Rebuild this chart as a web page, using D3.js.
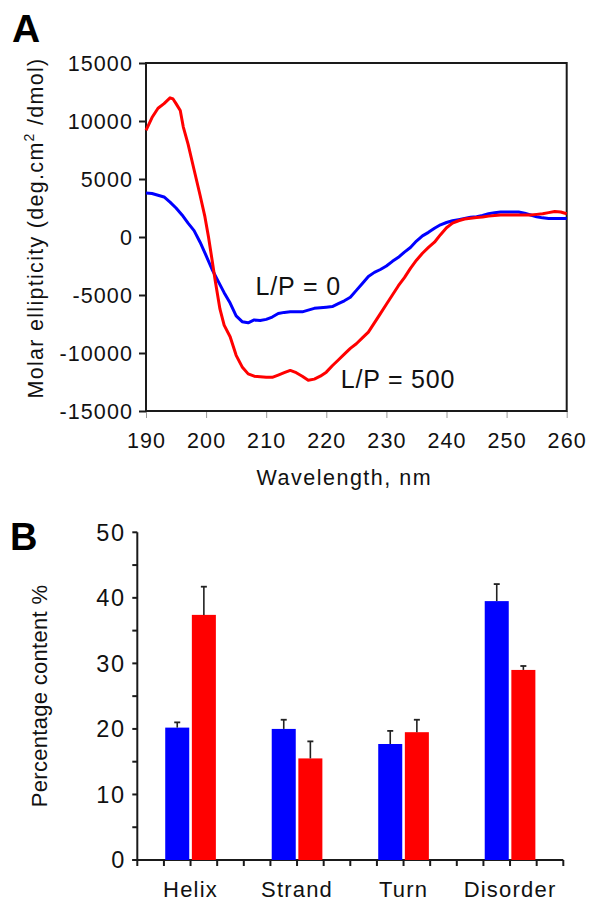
<!DOCTYPE html>
<html>
<head>
<meta charset="utf-8">
<script src="https://cdn.jsdelivr.net/npm/d3@7"></script>
<style>
  html, body { margin: 0; padding: 0; background: #fff; }
  svg { display: block; font-family: "Liberation Sans", Arial, sans-serif; }
</style>
</head>
<body>
<svg id="chart" width="589" height="902"></svg>
<script>
// ---------- Panel A data (CD spectra) ----------
const redWavelength = [190,191,192,193,194,194.5,195,195.7,196.2,197,198,199,199.8,200.4,201,201.5,202.3,203,204,205,206,207,208,209,210,211,212,213,214,215,216,217,218,219,220,221,222,223,224,225,226,227,228,229,230,231,232,233,234,235,236,237,238,239,240,241,242,243,244,245,246,247,248,249,250,252,254,255,256,257,258,259,260];
const redEllipticity = [9200,10300,11100,11500,12000,11900,11500,10900,9500,8000,5800,3600,1750,0,-2000,-3700,-6200,-7600,-8600,-10200,-11200,-11800,-12000,-12050,-12100,-12100,-11900,-11700,-11500,-11700,-12000,-12350,-12250,-12000,-11650,-11100,-10600,-10100,-9600,-9200,-8700,-8200,-7400,-6600,-5800,-5000,-4200,-3500,-2700,-2000,-1400,-900,-450,200,800,1200,1400,1550,1620,1680,1720,1800,1850,1900,1900,1900,1900,1950,2000,2100,2200,2150,2000];
const blueWavelength = [190,191,192,193,194,195,196,197,198,199,200,201,202,203,204,205,206,207,208,209,210,211,212,213,214,215,216,217,218,219,220,221,222,223,224,225,226,227,228,229,230,231,232,233,234,235,236,237,238,239,240,241,242,243,244,245,246,247,248,249,250,251,252,253,254,255,256,257,260];
const blueEllipticity = [3800,3750,3600,3450,3000,2500,1900,1200,550,-450,-1600,-2800,-3800,-4800,-5700,-6800,-7300,-7400,-7150,-7200,-7100,-6900,-6600,-6500,-6450,-6450,-6450,-6300,-6150,-6100,-6050,-6000,-5750,-5500,-5200,-4600,-4000,-3400,-3050,-2800,-2500,-2100,-1750,-1300,-900,-350,100,400,750,1050,1250,1400,1500,1600,1700,1750,1850,2000,2100,2150,2150,2150,2150,2050,1900,1750,1650,1600,1600];
const xTicksA = [190,200,210,220,230,240,250,260];
const yTicksA = [-15000,-10000,-5000,0,5000,10000,15000];
const curveLabels = ["L/P = 0", "L/P = 500"];

// ---------- Panel B data (secondary structure) ----------
const categories = ["Helix", "Strand", "Turn", "Disorder"];
const blueValues = [20.2, 20.0, 17.7, 39.5];
const blueErrors = [0.8, 1.4, 2.0, 2.6];
const redValues  = [37.4, 15.5, 19.5, 29.0];
const redErrors  = [4.3, 2.6, 1.9, 0.6];
const yTicksB = [0,10,20,30,40,50];
const yMinorB = [0,5,10,15,20,25,30,35,40,45,50];

const BLUE = "#0000ff", RED = "#ff0000", AX = "#1a1a1a";
const svg = d3.select("#chart");

// ================= PANEL A =================
const A = { left: 146, right: 566.7, top: 63, bottom: 411 };
const xA = d3.scaleLinear().domain([190, 260]).range([A.left, A.right]);
const yA = d3.scaleLinear().domain([-15000, 15000]).range([A.bottom, A.top]);

const gA = svg.append("g");
const yAxisA = d3.axisLeft(yA).tickValues(yTicksA).tickSize(7).tickPadding(6)
  .tickFormat(d => String(d));
gA.append("g").attr("transform", `translate(${A.left},0)`).call(yAxisA)
  .call(g => g.select(".domain").remove())
  .call(g => g.selectAll(".tick line").attr("stroke", AX).attr("stroke-width", 2))
  .call(g => g.selectAll(".tick text").attr("fill", "#111").attr("font-size", 21.5)
      .attr("letter-spacing", 1.1).attr("dy", "0.36em").attr("x", -13)
      .style("font-family", "'Liberation Sans', Arial, sans-serif"));
const xAxisA = d3.axisBottom(xA).tickValues(xTicksA).tickSize(7).tickPadding(8)
  .tickFormat(d => String(d));
gA.append("g").attr("transform", `translate(0,${A.bottom})`).call(xAxisA)
  .call(g => g.select(".domain").remove())
  .call(g => g.selectAll(".tick line").attr("stroke", "#9a9a9a").attr("stroke-width", 1))
  .call(g => g.selectAll(".tick text").attr("fill", "#111").attr("font-size", 21.5)
      .attr("letter-spacing", 1.1).attr("y", 37).attr("dy", 0)
      .style("font-family", "'Liberation Sans', Arial, sans-serif"));
gA.append("rect").attr("x", A.left).attr("y", A.top)
  .attr("width", A.right - A.left).attr("height", A.bottom - A.top)
  .attr("fill", "none").attr("stroke", AX).attr("stroke-width", 2);

const lineA = d3.line().x(d => xA(d[0])).y(d => yA(d[1]));
const redPts = redWavelength.map((w, i) => [w, redEllipticity[i]]);
const bluePts = blueWavelength.map((w, i) => [w, blueEllipticity[i]]);
gA.append("path").datum(bluePts).attr("d", lineA).attr("fill", "none")
  .attr("stroke", BLUE).attr("stroke-width", 3).attr("stroke-linejoin", "round");
gA.append("path").datum(redPts).attr("d", lineA).attr("fill", "none")
  .attr("stroke", RED).attr("stroke-width", 3).attr("stroke-linejoin", "round");

gA.append("text").attr("x", xA(208.2)).attr("y", yA(-5000))
  .attr("font-size", 25).attr("letter-spacing", 0.9).attr("fill", "#111").text(curveLabels[0]);
gA.append("text").attr("x", xA(222.4)).attr("y", yA(-13000))
  .attr("font-size", 25).attr("letter-spacing", 0.8).attr("fill", "#111").text(curveLabels[1]);

gA.append("text").attr("x", (A.left + A.right) / 2 - 12).attr("y", 485)
  .attr("text-anchor", "middle").attr("font-size", 21.5).attr("letter-spacing", 1.5)
  .attr("fill", "#111").text("Wavelength, nm");
const yt = gA.append("text").attr("transform", "translate(43,228) rotate(-90)")
  .attr("text-anchor", "middle").attr("font-size", 21.5).attr("letter-spacing", 1.3).attr("fill", "#111");
yt.append("tspan").text("Molar ellipticity (deg.cm");
yt.append("tspan").attr("dy", -9).attr("font-size", 14).text("2");
yt.append("tspan").attr("dy", 9).text(" /dmol)");

svg.append("text").attr("x", 12).attr("y", 41.5).attr("font-size", 39)
  .attr("font-weight", "bold").attr("fill", "#000").text("A");

// ================= PANEL B =================
const B = { left: 137.3, right: 563.3, top: 532.3, bottom: 860 };
const xB = d3.scaleBand().domain(categories).range([B.left, B.right]).padding(0);
const yB = d3.scaleLinear().domain([0, 50]).range([B.bottom, B.top]);
const bw = xB.bandwidth();
const q = bw / 4;

const gB = svg.append("g");
gB.append("line").attr("x1", B.left).attr("x2", B.left).attr("y1", yB(50)).attr("y2", yB(0))
  .attr("stroke", AX).attr("stroke-width", 2);
gB.selectAll(".yminor").data(yMinorB).join("line")
  .attr("x1", B.left - 5).attr("x2", B.left).attr("y1", d => yB(d)).attr("y2", d => yB(d))
  .attr("stroke", AX).attr("stroke-width", 2);
gB.selectAll(".ylab").data(yTicksB).join("text")
  .attr("x", 126).attr("y", d => yB(d)).attr("dy", "0.36em").attr("text-anchor", "end")
  .attr("font-size", 23.5).attr("letter-spacing", 1.8).attr("fill", "#111").text(d => String(d));
gB.append("line").attr("x1", B.left - 5).attr("x2", B.right).attr("y1", B.bottom).attr("y2", B.bottom)
  .attr("stroke", AX).attr("stroke-width", 2);
const xTickPos = [];
categories.forEach(c => { for (let k = 0; k < 4; k++) xTickPos.push(xB(c) + k * q); });
xTickPos.push(B.right);
gB.selectAll(".xtick").data(xTickPos).join("line")
  .attr("x1", d => d).attr("x2", d => d).attr("y1", B.bottom).attr("y2", B.bottom + 6)
  .attr("stroke", AX).attr("stroke-width", 2);

const inset = 1.3;
const barData = [];
categories.forEach((c, i) => {
  barData.push({ x: xB(c) + q, v: blueValues[i], e: blueErrors[i], color: BLUE });
  barData.push({ x: xB(c) + 2 * q, v: redValues[i], e: redErrors[i], color: RED });
});
gB.selectAll(".bar").data(barData).join("rect")
  .attr("x", d => d.x + inset).attr("width", q - 2 * inset)
  .attr("y", d => yB(d.v)).attr("height", d => yB(0) - yB(d.v))
  .attr("fill", d => d.color);
gB.selectAll(".err").data(barData).join("line")
  .attr("x1", d => d.x + q / 2).attr("x2", d => d.x + q / 2)
  .attr("y1", d => yB(d.v)).attr("y2", d => yB(d.v + d.e))
  .attr("stroke", "#222").attr("stroke-width", 1.6);
gB.selectAll(".cap").data(barData).join("line")
  .attr("x1", d => d.x + q / 2 - 3).attr("x2", d => d.x + q / 2 + 3)
  .attr("y1", d => yB(d.v + d.e)).attr("y2", d => yB(d.v + d.e))
  .attr("stroke", "#222").attr("stroke-width", 1.8);

gB.selectAll(".cat").data(categories).join("text")
  .attr("x", d => xB(d) + bw / 2).attr("y", 897).attr("text-anchor", "middle")
  .attr("font-size", 22).attr("letter-spacing", 1.2).attr("fill", "#111").text(d => d);

gB.append("text").attr("transform", "translate(47,696) rotate(-90)")
  .attr("text-anchor", "middle").attr("font-size", 22).attr("letter-spacing", 0.3)
  .attr("fill", "#111").text("Percentage content %");

svg.append("text").attr("x", 10).attr("y", 550).attr("font-size", 38)
  .attr("font-weight", "bold").attr("fill", "#000").text("B");
</script>
</body>
</html>
